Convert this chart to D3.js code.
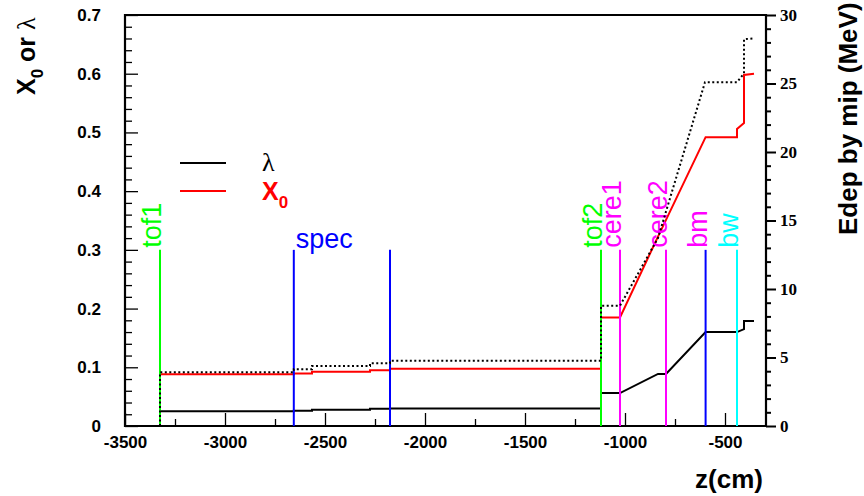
<!DOCTYPE html>
<html>
<head>
<meta charset="utf-8">
<script src="https://cdn.jsdelivr.net/npm/d3@7"></script>
<style>
  html, body { margin: 0; padding: 0; background: #fff; }
  svg { display: block; }
</style>
</head>
<body>
<svg id="chart" width="864" height="496"></svg>
<script>
// ---------------- data ----------------
// interaction length lambda (left axis)
const lambdaZ = [-3325,-3325,-2656,-2656,-2565,-2565,-2275,-2275,-2175,-2175,-1120,-1120,-1025,-835,-795,-597,-440,-405,-405,-355];
const lambdaV = [0,0.025,0.025,0.026,0.026,0.0275,0.0275,0.0295,0.0295,0.030,0.030,0.056,0.056,0.0886,0.0886,0.160,0.160,0.165,0.179,0.179];
// radiation length X0 (left axis)
const x0Z = [-3325,-3325,-2656,-2656,-2565,-2565,-2275,-2275,-2175,-2175,-1120,-1120,-1025,-835,-597,-440,-440,-405,-405,-355];
const x0V = [0,0.088,0.088,0.0895,0.0895,0.0925,0.0925,0.095,0.095,0.0977,0.0977,0.185,0.185,0.3225,0.492,0.492,0.506,0.516,0.598,0.600];
// energy deposit by mip, MeV (right axis)
const edepZ = [-3325,-3325,-2656,-2656,-2565,-2565,-2275,-2275,-2175,-2175,-1120,-1120,-1025,-835,-600,-440,-405,-405,-355];
const edepV = [0,3.92,3.92,4.14,4.14,4.38,4.38,4.58,4.58,4.76,4.76,8.78,8.78,13.72,25.1,25.1,25.74,28.23,28.3];
// detector markers
const markerZ      = [-3325, -2656, -2175, -1120, -1025, -795, -597, -440];
const markerLabels = ["tof1", "spec", "", "tof2", "cere1", "cere2", "bm", "bw"];
const markerGroup  = ["tof", "spec", "spec", "tof", "cere", "cere", "bm", "bw"];
const markerTop = 0.3;
// ticks
const xMajor = [-3500,-3000,-2500,-2000,-1500,-1000,-500];
const xMinor = [-3250,-2750,-2250,-1750,-1250,-750];
const yLMajor = [0,0.1,0.2,0.3,0.4,0.5,0.6,0.7];
const yLMajorLabels = ["0","0.1","0.2","0.3","0.4","0.5","0.6","0.7"];
const yRMajor = [0,5,10,15,20,25,30];

// ---------------- styles ----------------
const lineColors  = { tof: "#00ff00", spec: "#0000ff", cere: "#ff00ff", bm: "#0000ff", bw: "#00ffff" };
const labelColors = { tof: "#00ff00", spec: "#0000ff", cere: "#ff00ff", bm: "#ff00ff", bw: "#00ffff" };
const SANS = "'Liberation Sans', Arial, Helvetica, sans-serif";
const SERIF = "'Liberation Serif', 'Times New Roman', serif";

const svg = d3.select("#chart");
svg.append("rect").attr("width", 864).attr("height", 496).attr("fill", "#fff");

const L = 125, R = 766, T = 15, B = 426;
const x  = d3.scaleLinear().domain([-3500, -300]).range([L, 765]);
const yL = d3.scaleLinear().domain([0, 0.7]).range([B, T]);
const yR = d3.scaleLinear().domain([0, 30]).range([B, T]);

// minor tick positions
const yLMinor = d3.range(0, 0.7001, 0.02).filter(v => Math.abs(v*10 - Math.round(v*10)) > 1e-6);
const yRMinor = d3.range(0, 30.001, 1).filter(v => v % 5 !== 0);

function styleAxis(g, size, family, weight) {
  g.select(".domain").remove();
  g.selectAll("text").attr("font-size", size).attr("font-family", family).attr("font-weight", weight).attr("fill", "#000");
  g.selectAll("line").attr("stroke", "#000").attr("stroke-width", 1.3);
}

// bottom axis
svg.append("g").attr("transform", `translate(0,${B})`)
  .call(d3.axisBottom(x).tickValues(xMajor).tickSize(-13).tickPadding(10).tickFormat(d => String(d)))
  .call(g => styleAxis(g, 17, SANS, "bold"));
svg.append("g").attr("transform", `translate(0,${B})`)
  .call(d3.axisBottom(x).tickValues(xMinor).tickSize(-7).tickFormat(""))
  .call(g => styleAxis(g, 17, SANS, "bold"));

// left axis
svg.append("g").attr("transform", `translate(${L},0)`)
  .call(d3.axisLeft(yL).tickValues(yLMajor).tickSize(-13).tickPadding(24).tickFormat((d, i) => yLMajorLabels[i]))
  .call(g => styleAxis(g, 17, SANS, "bold"));
svg.append("g").attr("transform", `translate(${L},0)`)
  .call(d3.axisLeft(yL).tickValues(yLMinor).tickSize(-7).tickFormat(""))
  .call(g => styleAxis(g, 17, SANS, "bold"));

// right axis
svg.append("g").attr("transform", `translate(${R},0)`)
  .call(d3.axisRight(yR).tickValues(yRMajor).tickSize(10).tickPadding(4).tickFormat(d => String(d)))
  .call(g => { styleAxis(g, 17, SERIF, "bold"); g.selectAll("line").attr("stroke-width", 2); });
svg.append("g").attr("transform", `translate(${R},0)`)
  .call(d3.axisRight(yR).tickValues(yRMinor).tickSize(5).tickFormat(""))
  .call(g => { styleAxis(g, 17, SERIF, "bold"); g.selectAll("line").attr("stroke-width", 2); });

// frame
svg.append("path")
  .attr("d", `M${L},${T}H${R}V${B}H${L}Z`)
  .attr("fill", "none").attr("stroke", "#000").attr("stroke-width", 2.2);

// lines
const lineL = d3.line().x(d => x(d[0])).y(d => yL(d[1]));
const lineR = d3.line().x(d => x(d[0])).y(d => yR(d[1]));

svg.append("path").datum(d3.zip(lambdaZ, lambdaV)).attr("d", lineL)
  .attr("fill", "none").attr("stroke", "#000").attr("stroke-width", 2);
svg.append("path").datum(d3.zip(x0Z, x0V)).attr("d", lineL)
  .attr("fill", "none").attr("stroke", "#ff0000").attr("stroke-width", 2);

// markers
const mk = svg.append("g");
markerZ.forEach((z, i) => {
  const grp = markerGroup[i];
  mk.append("line").attr("x1", x(z)).attr("x2", x(z)).attr("y1", yL(0)).attr("y2", yL(markerTop))
    .attr("stroke", lineColors[grp]).attr("stroke-width", 2);
  const lab = markerLabels[i];
  if (!lab) return;
  if (lab === "spec") {
    mk.append("text").attr("x", x(z) + 2).attr("y", yL(markerTop) - 2)
      .attr("font-family", SANS).attr("font-size", 27).attr("fill", labelColors[grp]).text(lab);
  } else {
    const tx = x(z) + 1, ty = yL(markerTop) - 2;
    mk.append("text").attr("transform", `translate(${tx},${ty}) rotate(-90)`)
      .attr("font-family", SANS).attr("font-size", 27).attr("fill", labelColors[grp]).text(lab);
  }
});

// dotted edep line (right axis)
svg.append("path").datum(d3.zip(edepZ, edepV)).attr("d", lineR)
  .attr("fill", "none").attr("stroke", "#000").attr("stroke-width", 2).attr("stroke-dasharray", "2,2.5");

// legend
const lg = svg.append("g");
lg.append("line").attr("x1", 180).attr("x2", 226).attr("y1", 163).attr("y2", 163).attr("stroke", "#000").attr("stroke-width", 2);
lg.append("line").attr("x1", 180).attr("x2", 226).attr("y1", 191).attr("y2", 191).attr("stroke", "#ff0000").attr("stroke-width", 2);
lg.append("text").attr("x", 262).attr("y", 171).attr("font-family", SERIF).attr("font-size", 26).attr("fill", "#000").text("λ");
const x0t = lg.append("text").attr("x", 262).attr("y", 200).attr("font-family", SANS).attr("font-weight", "bold").attr("font-size", 25).attr("fill", "#ff0000");
x0t.append("tspan").text("X");
x0t.append("tspan").attr("dy", 8).attr("font-size", 17).text("0");

// axis titles
const yt = svg.append("text").attr("transform", "translate(35,95) rotate(-90)")
  .attr("font-family", SANS).attr("font-weight", "bold").attr("font-size", 25).attr("fill", "#000");
yt.append("tspan").text("X");
yt.append("tspan").attr("dy", 8).attr("font-size", 17).text("0");
yt.append("tspan").attr("dy", -8).text(" or ");
yt.append("tspan").attr("font-family", SERIF).attr("font-weight", "normal").attr("font-size", 26).text("λ");

svg.append("text").attr("transform", "translate(857,235) rotate(-90)")
  .attr("font-family", SANS).attr("font-weight", "bold").attr("font-size", 26).attr("fill", "#000")
  .text("Edep by mip (MeV)");

svg.append("text").attr("x", 763).attr("y", 488).attr("text-anchor", "end")
  .attr("font-family", SANS).attr("font-weight", "bold").attr("font-size", 26).attr("fill", "#000")
  .text("z(cm)");
</script>
</body>
</html>
